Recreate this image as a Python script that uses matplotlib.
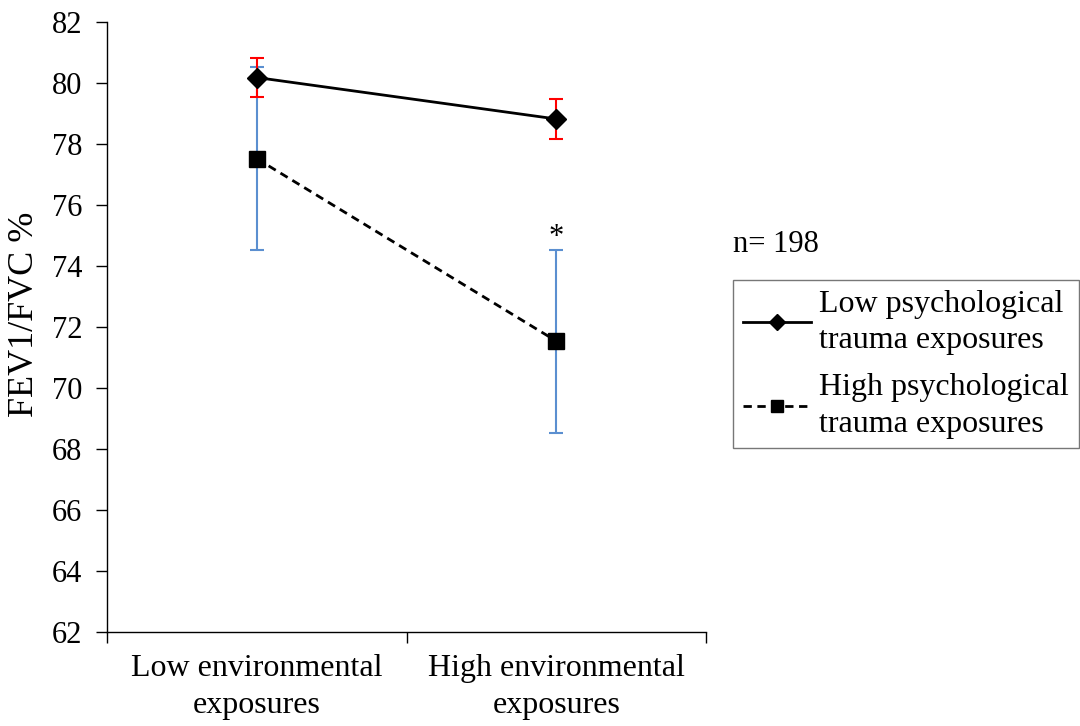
import numpy as np
import matplotlib.pyplot as plt
from matplotlib.ticker import FixedLocator, NullFormatter

plt.rcParams['font.family'] = ['Liberation Serif', 'DejaVu Serif']

# Data
categories = ["Low environmental\nexposures", "High environmental\nexposures"]
low_trauma = [80.18, 78.82]
low_trauma_err = [0.65, 0.67]
high_trauma = [77.52, 71.54]
high_trauma_err = [3.0, 3.0]
series_labels = ["Low psychological\ntrauma exposures", "High psychological\ntrauma exposures"]

x = np.arange(len(categories)) + 0.5

fig = plt.figure(figsize=(10.8, 7.26), dpi=100)
ax = fig.add_axes([107 / 1080, 1 - 632 / 726, (706 - 107) / 1080, (632 - 22) / 726])

# error bars first so lines/markers sit on top
ax.errorbar(x, high_trauma, yerr=high_trauma_err, fmt='none', ecolor='#5B8FD0',
            elinewidth=1.5, capsize=5, capthick=1.5, zorder=2)
ax.errorbar(x, low_trauma, yerr=low_trauma_err, fmt='none', ecolor='#FF0000',
            elinewidth=1.5, capsize=5, capthick=1.5, zorder=2)

ax.plot(x, low_trauma, color='black', linewidth=2, marker='D', markersize=10,
        label=series_labels[0], zorder=4)
ax.plot(x, high_trauma, color='black', linewidth=2, linestyle=(0, (3, 2)), marker='s',
        markersize=12, label=series_labels[1], zorder=4)

# significance marker
ax.annotate('*', (x[1], high_trauma[1] + high_trauma_err[1]), xytext=(0, -2),
            textcoords='offset points', ha='center', va='bottom', fontsize=22)

ax.set_xlim(0, 2)
ax.set_ylim(62, 82)
ax.set_yticks(np.arange(62, 83, 2))
ax.set_ylabel("FEV1/FVC %", fontsize=26)
ax.yaxis.set_label_coords(-0.11, 0.52)
ax.tick_params(axis='y', labelsize=22, length=8, width=1, direction='out', pad=10)

ax.xaxis.set_major_locator(FixedLocator([0, 1, 2]))
ax.xaxis.set_major_formatter(NullFormatter())
ax.xaxis.set_minor_locator(FixedLocator(x))
ax.set_xticklabels(categories, minor=True, fontsize=23, linespacing=1.35)
ax.tick_params(axis='x', which='major', length=8, width=1)
ax.tick_params(axis='x', which='minor', length=0, pad=16)

for s in ['top', 'right']:
    ax.spines[s].set_visible(False)
for s in ['left', 'bottom']:
    ax.spines[s].set_linewidth(1)

fig.text(733 / 1080, 1 - 244 / 726, "n= 198", fontsize=22, va='center')

leg = ax.legend(loc='upper left', bbox_to_anchor=(733 / 1080, 1 - 280 / 726),
                bbox_transform=fig.transFigure, fontsize=23, frameon=True,
                fancybox=False, edgecolor='#555555', handlelength=2.15,
                handletextpad=0.25, borderpad=0.3, borderaxespad=0,
                labelspacing=0.55, numpoints=1)
leg.get_frame().set_linewidth(1)
for h in leg.legend_handles:
    h.set_markersize(8)
for t in leg.get_texts():
    t.set_linespacing(1.35)

fig.savefig("out.png", dpi=100)
